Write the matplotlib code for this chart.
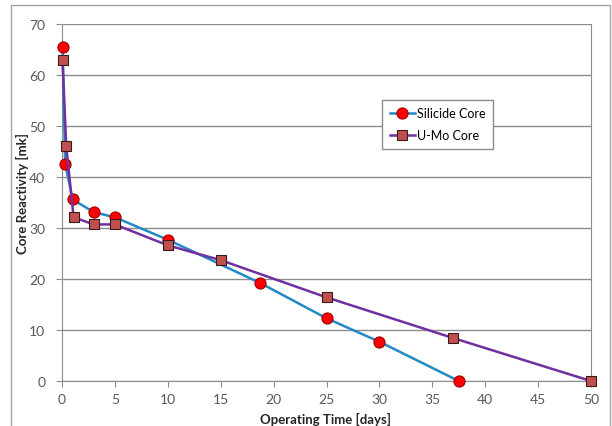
import matplotlib.pyplot as plt
from matplotlib.patches import Rectangle

plt.rcParams['font.family'] = ['Lato', 'DejaVu Sans']

# data
sil_days = [0.05, 0.3, 1.0, 3.0, 5.0, 10.0, 18.75, 25.0, 30.0, 37.5]
sil_mk = [65.4, 42.6, 35.6, 33.1, 32.1, 27.7, 19.2, 12.3, 7.7, 0.0]
umo_days = [0.05, 0.4, 1.1, 3.0, 5.0, 10.0, 15.0, 25.0, 37.0, 50.0]
umo_mk = [63.0, 46.0, 32.1, 30.7, 30.7, 26.6, 23.7, 16.4, 8.4, 0.0]

x_ticks = list(range(0, 55, 5))
y_ticks = list(range(0, 80, 10))

fig = plt.figure(figsize=(6.12, 4.27), dpi=100)
ax = fig.add_axes([62/612, 45/427, 529/612, 357/427])

# outer chart border
fig.patches.append(Rectangle((11/612, -0.05), 599/612, 1.05 - 6/427,
                             transform=fig.transFigure, fill=False,
                             edgecolor='#a6a6a6', linewidth=1.0))

ax.plot(sil_days, sil_mk, color='#2389c7', linewidth=1.8, marker='o',
        markersize=8, markerfacecolor='#ff0000', markeredgecolor='#a00000',
        markeredgewidth=0.8, label='Silicide Core', zorder=3, clip_on=False)
ax.plot(umo_days, umo_mk, color='#7030a0', linewidth=1.8, marker='s',
        markersize=7.5, markerfacecolor='#c0504d', markeredgecolor='#3a1a1a',
        markeredgewidth=0.8, label='U-Mo Core', zorder=3, clip_on=False)

ax.set_xlim(0, 50)
ax.set_ylim(0, 70)
ax.set_xticks(x_ticks)
ax.set_yticks(y_ticks)
ax.grid(axis='y', color='#8c8c8c', linewidth=1.0)
ax.set_axisbelow(True)
for s in ['left', 'bottom', 'right']:
    ax.spines[s].set_color('#8c8c8c')
ax.spines['top'].set_visible(False)
ax.tick_params(colors='#8c8c8c', labelcolor='#595959', labelsize=10,
               length=4, direction='out')
ax.tick_params(axis='x', pad=5)
ax.tick_params(axis='y', pad=8)

# axis titles placed like the reference
fig.text(326/612, 1 - 419/427, 'Operating Time [days]', fontsize=9.5,
         fontweight='bold', ha='center', va='center', color='#262626')
fig.text(22/612, 1 - 193/427, 'Core Reactivity [mk]', fontsize=9.5,
         fontweight='bold', ha='center', va='center', rotation=90,
         color='#262626')

leg = ax.legend(loc='upper left', bbox_to_anchor=(320/529, (382-101)/357),
                borderaxespad=0, frameon=True, fancybox=False, fontsize=9,
                handlelength=2.0, borderpad=0.6, labelspacing=0.8,
                handletextpad=0.2, framealpha=1)
leg.get_frame().set_edgecolor('#8c8c8c')
leg.get_frame().set_linewidth(1.0)

fig.savefig('out.png', dpi=100)
